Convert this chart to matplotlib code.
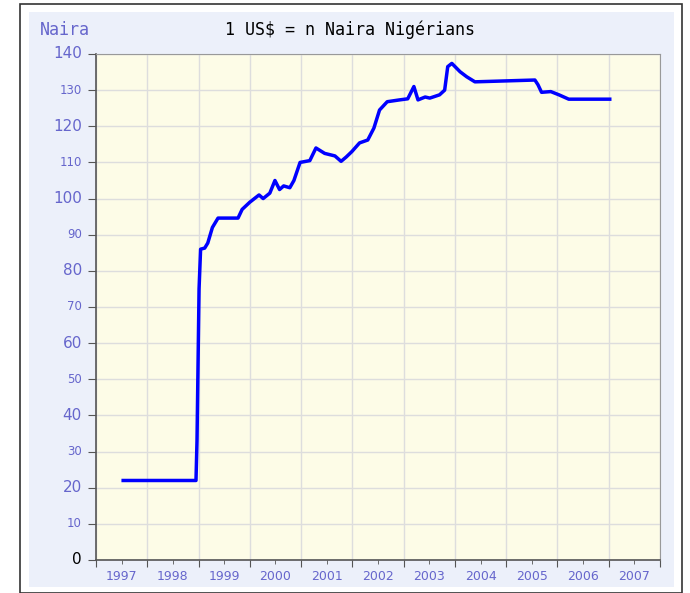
import matplotlib.pyplot as plt
import matplotlib.patches as patches
import numpy as np

# exchange rate (decimal year, naira per US$)
years = [1997.53, 1998.95, 1998.97, 1998.99, 1999.01, 1999.04, 1999.12, 1999.18,
         1999.27, 1999.38, 1999.77, 1999.85, 2000.0, 2000.18, 2000.26, 2000.39,
         2000.49, 2000.58, 2000.66, 2000.78, 2000.86, 2000.98, 2001.17, 2001.29,
         2001.46, 2001.66, 2001.78, 2001.88, 2001.99, 2002.14, 2002.30, 2002.42,
         2002.53, 2002.68, 2002.92, 2003.08, 2003.20, 2003.28, 2003.42, 2003.51,
         2003.70, 2003.80, 2003.86, 2003.94, 2004.10, 2004.23, 2004.39, 2005.56,
         2005.62, 2005.69, 2005.87, 2006.03, 2006.22, 2007.02]
rates = [22, 22, 33, 54, 75, 86, 86.3, 87.7,
         92, 94.6, 94.6, 97, 99, 101, 100, 101.5,
         105, 102.5, 103.5, 103, 105, 110, 110.5, 114,
         112.5, 111.8, 110.3, 111.5, 113, 115.4, 116.2, 119.5,
         124.5, 126.8, 127.3, 127.6, 131, 127.3, 128.1, 127.8,
         128.7, 130, 136.5, 137.4, 135.1, 133.7, 132.3, 132.8,
         131.5, 129.4, 129.6, 128.7, 127.5, 127.5]

year_labels = [str(y) for y in range(1997, 2008)]
y_ticks = list(range(0, 141, 10))

W, H = 690, 593
fig = plt.figure(figsize=(W / 100, H / 100), dpi=100)
fig.patch.set_facecolor('white')

# outer black frame and light blue panel, kept behind the axes
fig.patches.append(patches.Rectangle((20 / W, 0), 662 / W, 1 - 4 / H, transform=fig.transFigure,
                                     facecolor='white', edgecolor='#333333', lw=1.2, zorder=-2))
fig.patches.append(patches.Rectangle((29 / W, 1 - 587 / H), 645 / W, 575 / H, transform=fig.transFigure,
                                     facecolor='#ECF0FA', edgecolor='none', zorder=-1))

ax = fig.add_axes([96 / W, 1 - 560 / H, 564 / W, 506 / H])
ax.set_facecolor('#FDFCE7')

ax.plot(years, rates, color='#0000FF', lw=2.5, solid_joinstyle='round', zorder=3)

ax.set_xlim(1997, 2008)
ax.set_ylim(0, 140)

# grid on year boundaries, labels in the middle of each year
ax.set_xticks(np.arange(1997, 2009))
ax.set_xticklabels([])
ax.set_xticks(np.arange(1997.5, 2008, 1), minor=True)
ax.set_xticklabels(year_labels, minor=True)
ax.tick_params(axis='x', which='minor', length=3, color='#555555', labelsize=9,
               labelcolor='#6666CC', pad=4)
ax.tick_params(axis='x', which='major', length=5, color='#555555')

ax.set_yticks(y_ticks)
ax.set_yticklabels([])
ax.tick_params(axis='y', length=6, color='#555555')
for v in y_ticks:
    big = v % 20 == 0
    ax.text(-0.025, v, str(v), transform=ax.get_yaxis_transform(), ha='right', va='center',
            fontsize=11 if big else 8.5, color='black' if v == 0 else '#6666CC',
            family='DejaVu Sans')

ax.grid(True, which='major', color='#DDDDDD', lw=1)
ax.set_axisbelow(True)
for side in ['left', 'bottom']:
    ax.spines[side].set_color('#555555')
    ax.spines[side].set_linewidth(1.2)
for side in ['top', 'right']:
    ax.spines[side].set_color('#999999')

fig.text(40 / W, 1 - 30 / H, 'Naira', ha='left', va='center', fontsize=12,
         color='#6666CC', family='DejaVu Sans Mono')
fig.text(350 / W, 1 - 30 / H, '1 US$ = n Naira Nigérians', ha='center', va='center',
         fontsize=12, color='black', family='DejaVu Sans Mono')

fig.savefig('out.png', dpi=100)
